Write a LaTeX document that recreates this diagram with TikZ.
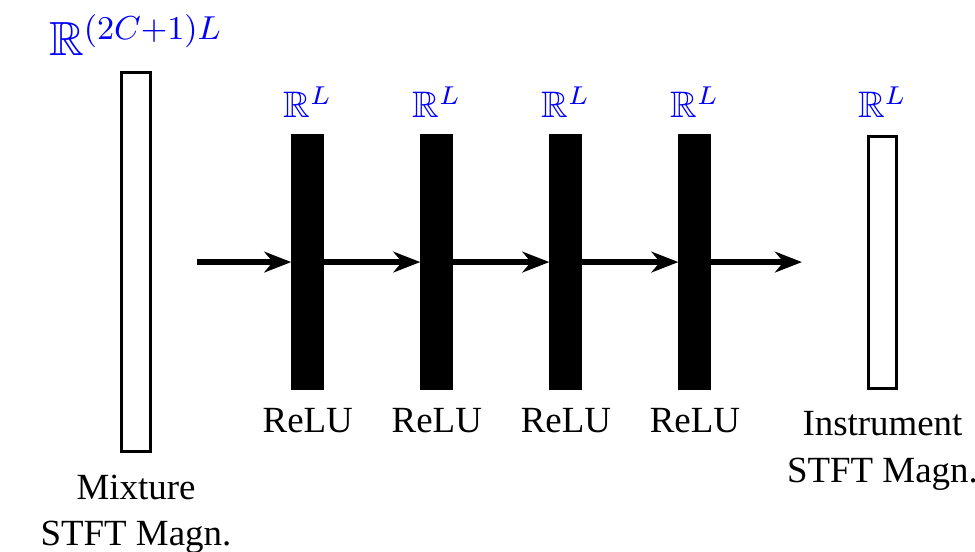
\documentclass[tikz,border=0pt]{standalone}
\usepackage{amsmath,amssymb}
\usepackage{fontspec}
\setmainfont{Liberation Serif}
\usetikzlibrary{arrows.meta,positioning}

\begin{document}
\begin{tikzpicture}[node distance=0.915cm,>={Stealth[length=7.3pt,width=5.6pt,inset=2.3pt]}]
  \tikzset{io/.style={draw,line width=0.8pt,minimum width=0.27cm,inner sep=0pt}}
  \tikzset{hid/.style={draw,fill=black,minimum width=0.3cm,minimum height=2.42cm,inner sep=0pt}}
  \tikzset{dim/.style={text=blue}}
  \tikzset{lab/.style={align=center,font=\fontsize{10}{12.7}\selectfont}}
  \useasboundingbox (0,0) rectangle (9.286,5.248);
  \node[io,minimum height=3.61cm] (mix) at (1.295,2.752) {};
  \node[hid,right=1.33cm of mix] (l1) {};
  \node[hid,right=of l1] (l2) {};
  \node[hid,right=of l2] (l3) {};
  \node[hid,right=of l3] (l4) {};
  \node[io,minimum height=2.4cm,right=1.48cm of l4] (out) {};
  \node[dim,above=0.6pt of mix,font=\fontsize{13}{15}\selectfont] (dmix) {$\mathbb{R}^{(2C+1)L}$};
  \node[dim,above=1pt of l1] (d1) {$\mathbb{R}^L$};
  \node[dim,above=1pt of l2] (d2) {$\mathbb{R}^L$};
  \node[dim,above=1pt of l3] (d3) {$\mathbb{R}^L$};
  \node[dim,above=1pt of l4] (d4) {$\mathbb{R}^L$};
  \node[dim,above=1pt of out] (dout) {$\mathbb{R}^L$};
  \node[lab,below=1.4pt of l1] (r1) {ReLU};
  \node[lab,below=1.4pt of l2] (r2) {ReLU};
  \node[lab,below=1.4pt of l3] (r3) {ReLU};
  \node[lab,below=1.4pt of l4] (r4) {ReLU};
  \node[lab,below=2.3pt of mix] (tmix) {Mixture\\STFT Magn.};
  \node[lab,below=2.3pt of out] (tout) {Instrument\\STFT Magn.};
  \coordinate (in) at (1.876,2.752);
  \coordinate (res) at (7.638,2.752);
  \draw[->,line width=1.4pt] (in)--(l1);
  \draw[->,line width=1.4pt] (l1)--(l2);
  \draw[->,line width=1.4pt] (l2)--(l3);
  \draw[->,line width=1.4pt] (l3)--(l4);
  \draw[->,line width=1.4pt] (l4)--(res);
\end{tikzpicture}
\end{document}
